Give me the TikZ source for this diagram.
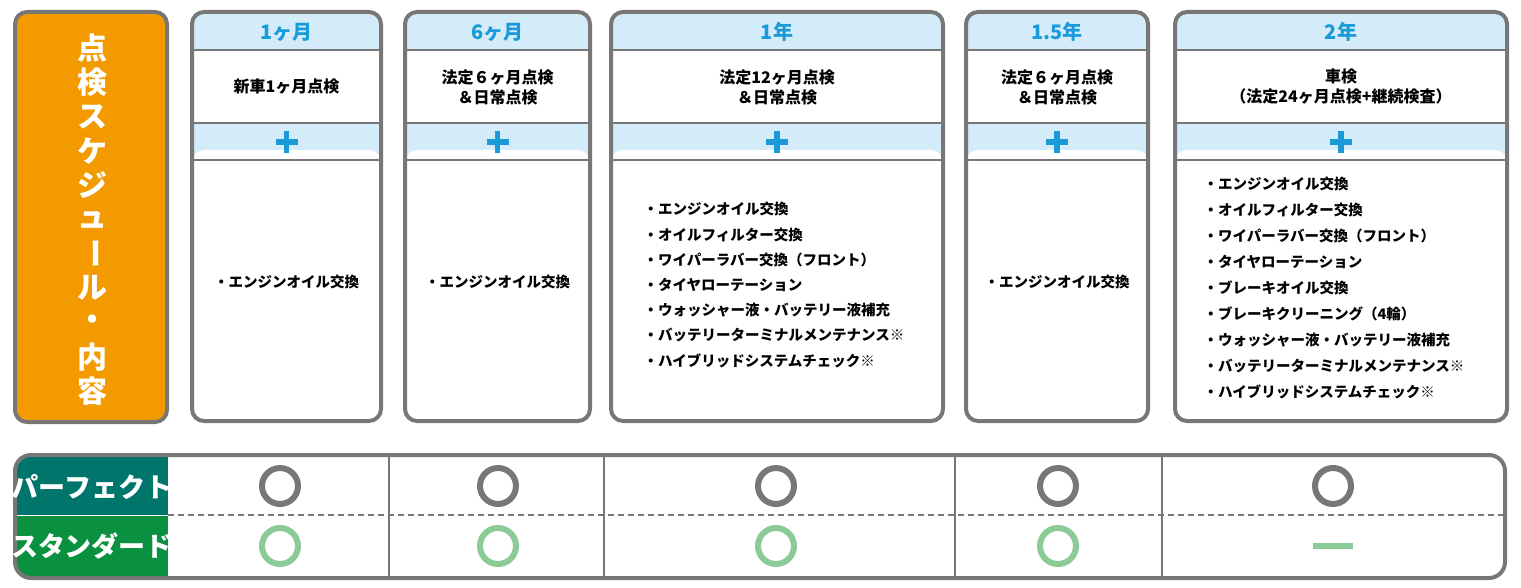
\documentclass[tikz,border=0pt]{standalone}
\usepackage{fontspec}
\setmainfont{Noto Sans CJK JP}
\definecolor{bd}{HTML}{777777}
\definecolor{lb}{HTML}{D4ECF9}
\definecolor{hb}{HTML}{1A9AD8}
\definecolor{og}{HTML}{F39A00}
\definecolor{teal}{HTML}{00756B}
\definecolor{grn}{HTML}{0A913F}
\definecolor{lg}{HTML}{8BCB97}
\tikzset{x=1pt,y=-1pt,
 hdr/.style={font=\bfseries\fontsize{20}{20}\selectfont,text=hb},
 sub/.style={font=\bfseries\fontsize{16}{20}\selectfont,align=center},
 lst/.style={font=\bfseries\fontsize{14.5}{25.2}\selectfont,align=left},
 ttl/.style={font=\bfseries\fontsize{30}{30}\selectfont,text=white},
 lbl/.style={font=\bfseries\fontsize{27}{27}\selectfont,text=white},
 ok/.style={circle,draw=#1,line width=6pt,minimum size=36pt,inner sep=0pt},
 plus/.style={draw=hb,line width=5.5pt}}
\newcommand\mycol[6]{%
 \fill[lb,rounded corners=12pt] (#1,12) rectangle (#2,60);
 \fill[white] (#1,50) rectangle (#2,123);
 \fill[lb] (#1,123) rectangle (#2,160);
 \fill[white,rounded corners=12pt] (#1,150) rectangle (#2,421);
 \fill[white] (#1,160) rectangle (#2,200);
 \draw[bd,line width=2.5pt] (#1,50) -- (#2,50) (#1,123) -- (#2,123) (#1,160) -- (#2,160);
 \draw[bd,line width=4pt,rounded corners=12pt] (#1,12) rectangle (#2,421);
 \node[hdr] (h#6) at ({(#1+#2)/2},32) {#3};
 \node[sub] (s#6) at ({(#1+#2)/2},87) {#4};
 \draw[plus] ({(#1+#2)/2-11},142) -- ({(#1+#2)/2+11},142) ({(#1+#2)/2},131) -- ({(#1+#2)/2},153);
 \coordinate (c#6) at ({(#1+#2)/2},142);
}
\begin{document}
\begin{tikzpicture}
\useasboundingbox (0,0) rectangle (1521,588);
% title box
\fill[og,rounded corners=12pt] (15,12) rectangle (167,422);
\draw[bd,line width=4pt,rounded corners=12pt] (15,12) rectangle (167,422);
\foreach \ch [count=\i from 0] in {点,検,ス,ケ,ジ,ュ,ー,ル,・,内,容}{
  \ifnum\i=6
    \node[ttl,rotate=-90] (t\i) at (92,{48+\i*34.3}) {\ch};
  \else
    \node[ttl] (t\i) at (92,{48+\i*34.3}) {\ch};
  \fi}
\mycol{192}{381}{1ヶ月}{新車1ヶ月点検}{}{a}
\mycol{405}{590}{6ヶ月}{法定６ヶ月点検\\＆日常点検}{}{b}
\mycol{611}{943}{1年}{法定12ヶ月点検\\＆日常点検}{}{c}
\mycol{966}{1148}{1.5年}{法定６ヶ月点検\\＆日常点検}{}{d}
\mycol{1175}{1507}{2年}{車検\\（法定24ヶ月点検+継続検査）}{}{e}
\node[lst] (la) at (286.5,282) {・エンジンオイル交換};
\node[lst] (lb) at (497.5,282) {・エンジンオイル交換};
\node[lst] (ld) at (1057,282) {・エンジンオイル交換};
\node[lst,anchor=north west] (lc) at (640,199) {・エンジンオイル交換\\・オイルフィルター交換\\・ワイパーラバー交換（フロント）\\・タイヤローテーション\\・ウォッシャー液・バッテリー液補充\\・バッテリーターミナルメンテナンス※\\・ハイブリッドシステムチェック※};
\node[lst,anchor=north west,font=\bfseries\fontsize{14.5}{25.9}\selectfont] (le) at (1200,174) {・エンジンオイル交換\\・オイルフィルター交換\\・ワイパーラバー交換（フロント）\\・タイヤローテーション\\・ブレーキオイル交換\\・ブレーキクリーニング（4輪）\\・ウォッシャー液・バッテリー液補充\\・バッテリーターミナルメンテナンス※\\・ハイブリッドシステムチェック※};
% bottom table
\fill[white,rounded corners=16pt] (15,455) rectangle (1505,578);
\begin{scope}
\clip[rounded corners=16pt] (15,455) rectangle (1505,578);
\fill[teal] (15,455) rectangle (168,515);
\fill[grn] (15,516) rectangle (168,578);
\end{scope}
\draw[bd,line width=1.5pt,dash pattern=on 6pt off 4pt] (168,515) -- (1505,515);
\foreach \xx in {389,604,955,1162} \draw[bd,line width=2pt] (\xx,455) -- (\xx,578);
\draw[bd,line width=4pt,rounded corners=16pt] (15,455) rectangle (1505,578);
\node[lbl] (pf) at (92,487) {パーフェクト};
\node[lbl] (st) at (92,546) {スタンダード};
\foreach \xx/\n in {280/a,498/b,776/c,1058/d,1333/e} \node[ok=bd] (p\n) at (\xx,486) {};
\foreach \xx/\n in {280/a,498/b,776/c,1058/d} \node[ok=lg] (q\n) at (\xx,546) {};
\draw[lg,line width=6pt] (1313,546) -- (1353,546);
\coordinate (qe) at (1333,546);
\end{tikzpicture}
\end{document}
